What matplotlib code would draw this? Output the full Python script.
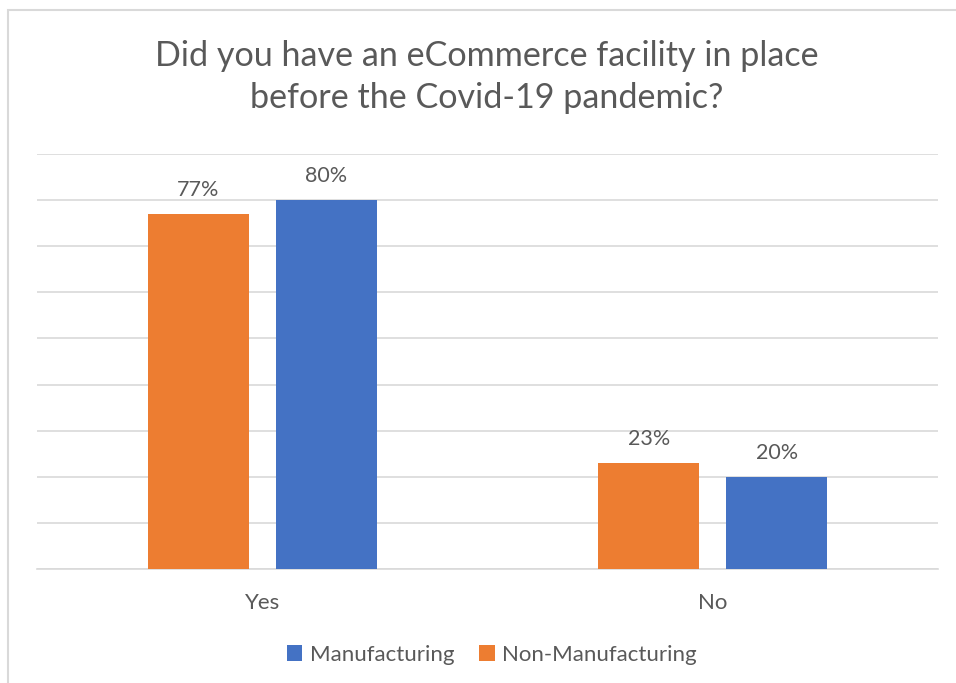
import numpy as np
import matplotlib.pyplot as plt
from matplotlib.patches import Rectangle

categories = ["Yes", "No"]
non_manufacturing = [0.77, 0.23]
manufacturing = [0.80, 0.20]

ORANGE = "#ED7D31"
BLUE = "#4472C4"
TEXT = "#595959"
GRID = "#D9D9D9"

plt.rcParams['font.family'] = ['Lato', 'DejaVu Sans']

fig = plt.figure(figsize=(9.56, 6.83), dpi=100)
# outer chart border
fig.patches.append(Rectangle((8 / 956, -0.01), 1.0, 1 - 10 / 683 + 0.01,
                             transform=fig.transFigure, fill=False,
                             edgecolor=GRID, linewidth=1.5))

ax = fig.add_axes([37 / 956, 1 - 569 / 683, 901 / 956, (569 - 154) / 683])

x = np.arange(len(categories))
width = 0.224
offset = 0.142
b1 = ax.bar(x - offset, non_manufacturing, width, color=ORANGE, label="Non-Manufacturing", zorder=3)
b2 = ax.bar(x + offset, manufacturing, width, color=BLUE, label="Manufacturing", zorder=3)

for bars, vals in ((b1, non_manufacturing), (b2, manufacturing)):
    for bar, v in zip(bars, vals):
        ax.text(bar.get_x() + bar.get_width() / 2, v + 0.03, f"{v:.0%}",
                ha="center", va="bottom", fontsize=15.5, color=TEXT)

ax.set_xlim(-0.5, 1.5)
ax.set_ylim(0, 0.9)
ax.set_yticks(np.arange(0, 0.91, 0.1))
ax.yaxis.grid(True, color=GRID, linewidth=1.2, zorder=0)
ax.tick_params(axis="y", left=False, labelleft=False)
ax.tick_params(axis="x", length=0, pad=17, labelsize=16, labelcolor=TEXT)
ax.set_xticks(x)
ax.set_xticklabels(categories)
for s in ("top", "right", "left"):
    ax.spines[s].set_visible(False)
ax.spines["bottom"].set_color(GRID)
ax.spines["bottom"].set_linewidth(1.2)

fig.text(487 / 956, 1 - 77 / 683, "Did you have an eCommerce facility in place\nbefore the Covid-19 pandemic?",
         ha="center", va="center", fontsize=24.6, color=TEXT, linespacing=1.38)

handles = [b2, b1]
leg = fig.legend(handles, [h.get_label() for h in handles], loc="center",
                 bbox_to_anchor=(492 / 956, 1 - 655 / 683), ncol=2, frameon=False,
                 fontsize=16, handlelength=0.7, handleheight=0.7,
                 handletextpad=0.35, columnspacing=1.1)
for t in leg.get_texts():
    t.set_color(TEXT)

fig.savefig("out.png", dpi=100)
